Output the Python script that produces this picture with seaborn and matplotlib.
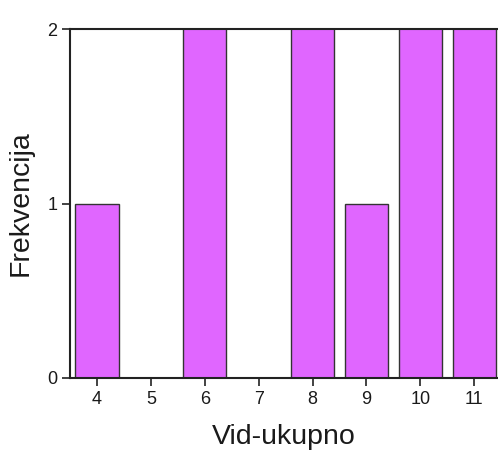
import numpy as np
import pandas as pd
import matplotlib
matplotlib.use("Agg")
import matplotlib.pyplot as plt
import seaborn as sns

# podaci (stupci iznad 2 su odrezani na rubu grafa)
vid_ukupno = [4, 5, 6, 7, 8, 9, 10, 11]
frekvencija = [1, 0, 3, 0, 3, 1, 3, 3]
y_ticks = [0, 1, 2]

sns.set_theme(style="white")
plt.rcParams['font.family'] = ['Liberation Sans', 'DejaVu Sans']
plt.rcParams['text.color'] = '#1a1a1a'
plt.rcParams['axes.labelcolor'] = '#1a1a1a'
plt.rcParams['xtick.color'] = '#1a1a1a'
plt.rcParams['ytick.color'] = '#1a1a1a'

df = pd.DataFrame({"vid": vid_ukupno, "freq": frekvencija})

fig = plt.figure(figsize=(4.98, 4.54), dpi=100)
ax = fig.add_axes([70 / 498, 1 - 378 / 454, 1 - 70 / 498, (378 - 29) / 454])

sns.barplot(data=df, x="vid", y="freq", native_scale=True, width=0.8,
            color="#E066FF", saturation=1, edgecolor="#333333", linewidth=1.0,
            ax=ax)

ax.set_xlim(3.5, 11.44)
ax.set_ylim(0, 2)
ax.set_xticks(vid_ukupno)
ax.set_xticklabels([str(v) for v in vid_ukupno], fontsize=13)
ax.set_yticks(y_ticks)
ax.set_yticklabels([str(v) for v in y_ticks], fontsize=13)
ax.tick_params(axis="both", direction="out", length=6, width=1.2, color="#222222",
               bottom=True, left=True, pad=3)

for side in ["left", "bottom", "top"]:
    ax.spines[side].set_visible(True)
    ax.spines[side].set_color("#222222")
    ax.spines[side].set_linewidth(1.5)
ax.spines["right"].set_visible(False)

ax.set_xlabel("Vid-ukupno", fontsize=20.5, labelpad=12)
ax.set_ylabel("Frekvencija", fontsize=20.5, labelpad=10)

fig.savefig("out.png", dpi=100)
